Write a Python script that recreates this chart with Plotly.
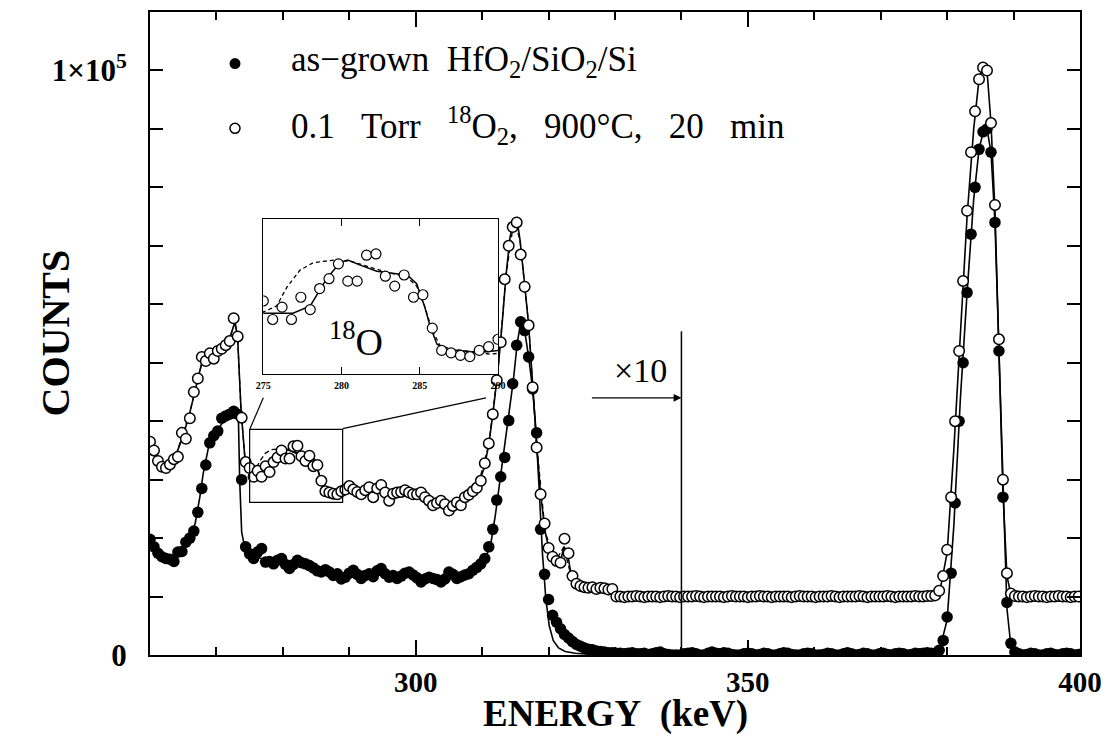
import numpy as np
import plotly.graph_objects as go

# ---------------- data (displayed counts, in units of 1000 counts) ----------------
# channel calibration of the spectrum
E0 = 260.0
DE = 0.6
# 0.1 Torr 18O2, 900C, 20 min (open circles); values above 340 keV are shown x10
annealed_k = [
    36.5, 35.0, 33.2, 32.2, 32.0, 32.6, 33.5, 33.9, 38.0, 37.0,
    40.5, 45.0, 47.3, 51.0, 50.3, 51.6, 50.7, 52.0, 52.4, 53.0,
    53.7, 57.6, 54.5, 40.6, 33.0, 32.0, 30.5, 31.5, 30.5, 32.3,
    31.3, 33.0, 33.8, 35.0, 33.6, 33.6, 35.7, 35.8, 34.0, 33.2,
    34.1, 32.3, 32.5, 29.8, 28.0, 27.8, 27.6, 27.5, 28.0, 28.3,
    28.9, 28.3, 27.9, 27.5, 28.2, 28.7, 27.0, 28.5, 29.1, 27.8,
    26.4, 27.6, 27.8, 27.9, 28.2, 27.8, 27.5, 27.5, 27.8, 27.0,
    26.4, 25.6, 26.0, 26.4, 25.8, 24.7, 25.5, 26.1, 25.6, 27.0,
    27.4, 28.0, 28.6, 29.8, 32.8, 36.2, 41.2, 47.0, 53.5, 64.3,
    70.0, 73.2, 74.0, 68.5, 63.0, 56.4, 45.8, 35.5, 27.5, 22.5,
    18.3, 16.8, 16.1, 15.8, 19.9, 17.4, 13.5, 12.2, 11.8, 11.6,
    11.5, 11.6, 11.3, 11.5, 11.4, 11.2, 11.3,
    10.0, 10.0, 9.9, 10.0, 10.0, 10.1, 10.0, 9.9, 10.0, 10.0,
    10.0, 9.9, 10.0, 10.1, 10.0, 10.0, 9.9, 10.0, 10.0, 10.0,
    10.1, 10.0, 9.9, 10.0, 10.0, 10.0, 10.0, 9.9, 10.0, 10.1,
    10.0, 10.0, 10.0, 9.9, 10.0, 10.0, 10.1, 10.0, 10.0, 9.9,
    10.0, 10.0, 10.0, 10.0, 9.9, 10.0, 10.1, 10.0, 10.0, 10.0,
    9.9, 10.0, 10.0, 10.0, 10.1, 10.0, 9.9, 10.0, 10.0, 10.0,
    10.0, 10.1, 10.0, 9.9, 10.0, 10.0, 10.0, 10.0, 10.1, 10.0,
    9.9, 10.0, 10.0, 10.0, 10.0, 10.1, 10.0, 10.0, 10.1, 10.1,
    10.2, 11.0, 13.5, 18.0, 27.0, 40.0, 52.0, 64.0, 76.0, 86.0,
    93.0, 98.5, 100.5, 100.0, 91.0, 77.0, 54.0, 30.0, 14.0,
    10.5, 10.1,
    10.0, 10.0, 9.9, 10.0, 10.1, 10.0, 10.0, 9.9, 10.0, 10.0,
    10.1, 10.0, 10.0, 9.9, 10.0, 10.0,
]
# as-grown HfO2/SiO2/Si (filled circles)
asgrown_k = [
    19.8, 18.5, 17.4, 16.8, 16.5, 16.4, 16.0, 17.6, 17.7, 19.3,
    20.0, 21.2, 24.4, 28.5, 32.5, 36.3, 37.5, 38.3, 40.5, 40.9,
    41.2, 41.7, 41.2, 30.0, 18.5, 17.3, 16.5, 17.6, 18.2, 15.9,
    16.0, 15.6, 16.2, 16.5, 15.5, 14.8, 15.5, 16.2, 15.8, 15.6,
    15.3, 14.9, 14.4, 14.2, 14.6, 14.2, 13.6, 13.9, 13.0, 13.3,
    14.0, 14.5, 13.8, 13.1, 13.6, 13.9, 13.4, 14.4, 14.8, 13.9,
    13.3, 13.6, 13.1, 13.5, 14.0, 14.2, 13.7, 13.2, 12.5, 13.0,
    13.3, 13.1, 12.9, 12.5, 13.0, 14.2, 13.8, 13.1, 13.4, 13.7,
    13.9, 14.5, 15.0, 15.6, 16.5, 18.5, 21.5, 26.5, 30.5, 33.8,
    40.1, 46.4, 53.0, 57.0, 55.5, 51.0, 45.5, 38.0, 21.5, 13.8,
    9.5, 6.8, 5.6, 4.5, 3.5, 2.9, 2.3, 1.8, 1.5, 1.2,
    1.0, 0.9, 0.7, 0.6, 0.5, 0.4, 0.4,
    0.3, 0.3, 0.2, 0.3, 0.4, 0.2, 0.2, 0.3, 0.1, 0.2,
    0.4, 0.5, 0.2, 0.1, 0.0, 0.0, 0.0, 0.2, 0.3, 0.4,
    0.2, 0.0, 0.0, 0.3, 0.5, 0.3, 0.2, 0.4, 0.3, 0.1,
    0.0, 0.0, 0.2, 0.3, 0.2, 0.0, 0.1, 0.3, 0.2, 0.0,
    0.0, 0.2, 0.4, 0.3, 0.1, 0.0, 0.0, 0.2, 0.3, 0.2,
    0.0, 0.0, 0.1, 0.3, 0.2, 0.0, 0.0, 0.2, 0.4, 0.2,
    0.0, 0.1, 0.3, 0.2, 0.0, 0.0, 0.2, 0.3, 0.1, 0.0,
    0.2, 0.3, 0.2, 0.0, 0.1, 0.3, 0.2, 0.3, 0.4, 0.3,
    0.3, 0.8, 2.5, 6.5, 14.0, 26.0, 40.0, 50.0, 62.0, 72.0,
    80.0, 86.5, 89.5, 90.0, 86.0, 74.0, 52.0, 27.0, 9.0,
    2.0, 0.5,
    0.2, 0.0, 0.1, 0.3, 0.2, 0.0, 0.0, 0.2, 0.3, 0.1,
    0.0, 0.2, 0.3, 0.2, 0.0, 0.1,
]

# simulations (solid lines) and alternative simulation (dashed)
sim_annealed_E = [260, 261, 262, 263, 264, 265, 266, 267, 267.8, 269, 270, 271, 272, 272.8,
                  273.2, 273.7, 274.3, 275, 276, 276.9, 278, 279.05, 279.9, 280.4, 281.2,
                  282.25, 283.5, 284.2, 284.8, 285.3, 285.65, 286.1, 286.7, 288.3, 289.3, 290,
                  292, 295, 298, 300, 302, 304, 305.5, 307, 308.5, 309.5, 310.3, 311, 311.7,
                  312.4, 313.0, 313.6, 314.2, 314.8, 315.2, 315.7, 316.3, 317, 317.6, 318.2,
                  318.8, 319.5, 320.2, 321, 321.7, 322.3, 322.8, 323.5, 324.2, 326, 328, 330,
                  331, 340, 378, 379, 380, 381, 382, 383, 384, 384.8, 385.4, 386, 386.6, 387.2,
                  387.8, 388.4, 389, 389.6, 390.5, 400]
sim_annealed_k = [35.5, 33.5, 32.3, 32.6, 34.5, 37.5, 41.5, 46.5, 50.0, 51.0, 52.0, 52.8, 54.2,
                  57.0, 54.0, 42.0, 33.5, 31.0, 31.0, 31.0, 31.6, 33.8, 35.1, 35.3, 34.9, 34.4,
                  34.2, 34.1, 33.4, 31.6, 30.0, 28.5, 28.1, 27.9, 27.9, 28.0, 28.0, 28.0, 27.8,
                  27.6, 26.8, 26.0, 25.7, 26.5, 27.8, 29.5, 32.0, 36.0, 42.0, 49.0, 56.5, 65.0,
                  71.5, 74.5, 74.8, 71.0, 64.5, 56.5, 46.5, 36.0, 27.5, 21.0, 17.5, 16.0, 15.5,
                  18.5, 17.8, 13.0, 11.5, 11.0, 10.8, 10.6, 10.1, 10.0, 10.0, 11.5, 17.5, 35.0,
                  55.0, 75.0, 90.0, 98.5, 100.8, 100.0, 91.0, 76.0, 52.0, 28.0, 13.5, 10.4,
                  10.0, 10.0]
sim2_annealed_E = [260, 262, 264, 266, 267.8, 270, 272, 272.8, 273.2, 273.7, 274.3, 275, 275.86,
                   276.5, 277.35, 278.2, 279.5, 280.6, 281.6, 282.7, 284.2, 284.8, 285.3, 285.8,
                   286.3, 287, 288.3, 289.5, 292, 296, 300, 304, 307, 309.5, 311, 312.4, 313.6,
                   314.8, 315.7, 317, 318.2, 319.5, 321, 322.3, 323.5, 326, 331]
sim2_annealed_k = [35.5, 32.3, 34.5, 41.5, 50.0, 52.0, 54.2, 57.0, 54.0, 42.0, 33.5, 31.1, 31.6,
                   33.1, 34.5, 35.1, 35.3, 35.2, 34.8, 34.4, 33.9, 33.2, 31.6, 29.6, 28.4, 28.1,
                   27.9, 27.7, 28.0, 27.9, 27.6, 26.0, 26.5, 29.5, 36.0, 49.0, 65.0, 74.5, 71.0,
                   56.5, 36.0, 21.0, 16.0, 18.5, 13.0, 11.0, 10.1]
sim_asgrown_E = [260, 261, 262, 263, 264, 265, 266, 266.8, 267.5, 268, 268.8, 269.6, 270.5,
                 271.3, 272.0, 272.8, 273.3, 273.5, 273.8, 274.3, 275, 276, 278, 280, 282, 284,
                 286, 288, 290, 295, 300, 305, 308, 309.5, 310.5, 311.3, 312, 312.7, 313.3, 314,
                 314.7, 315.3, 315.9, 316.4, 317, 317.6, 318.1, 318.6, 319.1, 319.6, 320.1,
                 320.7, 321.5, 322.5, 324, 326, 330, 340, 378, 379, 380, 381, 382, 383, 384,
                 384.8, 385.5, 386, 386.6, 387.2, 387.8, 388.4, 389, 389.6, 390.5, 400]
sim_asgrown_k = [19.0, 17.5, 16.6, 16.3, 16.8, 18.2, 20.2, 22.5, 27.0, 31.0, 35.5, 37.5, 39.0,
                 40.5, 41.2, 41.7, 41.0, 30.0, 21.0, 18.2, 17.3, 16.8, 16.0, 15.8, 15.5, 15.2,
                 14.4, 13.8, 13.7, 13.8, 13.4, 13.2, 13.9, 15.0, 16.5, 19.0, 24.0, 30.0, 35.0,
                 40.5, 47.0, 53.5, 57.5, 55.5, 51.0, 45.5, 38.5, 28.0, 17.0, 9.5, 5.0, 2.5, 1.2,
                 0.6, 0.3, 0.15, 0.05, 0.0, 0.0, 1.5, 6.0, 22.0, 44.0, 62.0, 78.0, 86.5, 89.8,
                 90.0, 86.0, 74.0, 52.0, 26.0, 8.0, 1.5, 0.0, 0.0]

x_ticks = [300, 350, 400]
x_ticklabels = ["300", "350", "400"]
y_ticks = [0, 100000]
y_ticklabels = ["0", "1×10<sup>5</sup>"]
inset_ticks = [275, 280, 285, 290]
inset_ticklabels = ["275", "280", "285", "290"]
scale_break_E = 340          # data above are multiplied by 10
inset_E_range = [275, 290]
box_E_range = [275, 289]
inset_counts_range = [26100, 38600]

# ---------------- helpers ----------------
def kc(v):
    return np.array(v, dtype=float) * 1000.0

E_ann = np.round(E0 + DE * np.arange(len(annealed_k)), 2)
E_asg = np.round(E0 + DE * np.arange(len(asgrown_k)), 2)

FONT = "Liberation Serif"
BLACK = "black"

fig = go.Figure()

# main panel: simulations
fig.add_trace(go.Scatter(x=sim2_annealed_E, y=kc(sim2_annealed_k), mode="lines",
                         line=dict(color=BLACK, width=1.3, dash="5px,3px"), showlegend=False))
fig.add_trace(go.Scatter(x=sim_annealed_E, y=kc(sim_annealed_k), mode="lines",
                         line=dict(color=BLACK, width=1.6), showlegend=False))
fig.add_trace(go.Scatter(x=sim_asgrown_E, y=kc(sim_asgrown_k), mode="lines",
                         line=dict(color=BLACK, width=1.6), showlegend=False))
# main panel: data
fig.add_trace(go.Scatter(x=E_asg, y=kc(asgrown_k), mode="markers",
                         marker=dict(symbol="circle", size=11.5, color=BLACK, line=dict(width=0)),
                         name="as-grown", showlegend=False))
fig.add_trace(go.Scatter(x=E_ann, y=kc(annealed_k), mode="markers",
                         marker=dict(symbol="circle", size=10.5, color="white",
                                     line=dict(color=BLACK, width=1.5)),
                         name="annealed", showlegend=False))

# inset panel
sel = (E_ann >= 274) & (E_ann <= 291)
fig.add_trace(go.Scatter(x=sim2_annealed_E, y=kc(sim2_annealed_k), mode="lines",
                         xaxis="x2", yaxis="y2",
                         line=dict(color=BLACK, width=1.3, dash="4px,3px"), showlegend=False))
fig.add_trace(go.Scatter(x=sim_annealed_E, y=kc(sim_annealed_k), mode="lines",
                         xaxis="x2", yaxis="y2",
                         line=dict(color=BLACK, width=1.5), showlegend=False))
fig.add_trace(go.Scatter(x=E_ann[sel], y=kc(annealed_k)[sel], mode="markers",
                         xaxis="x2", yaxis="y2",
                         marker=dict(symbol="circle", size=10, color="white",
                                     line=dict(color=BLACK, width=1.2)),
                         showlegend=False))

# ---------------- geometry ----------------
W, H = 1116, 736
ML, MR, MT, MB = 150, 36, 10, 81
PW, PH = W - ML - MR, H - MT - MB


def px_x(px):
    return (px - ML) / PW


def px_y(py):
    return (H - MB - py) / PH


fig.update_layout(
    width=W, height=H,
    margin=dict(l=ML, r=MR, t=MT, b=MB),
    paper_bgcolor="white", plot_bgcolor="white",
    showlegend=False,
    xaxis=dict(
        domain=[0, 1], range=[260, 400], showgrid=False, zeroline=False,
        showline=True, linecolor=BLACK, linewidth=2, mirror="ticks",
        ticks="inside", ticklen=15, tickwidth=1.6, tickcolor=BLACK,
        tickvals=x_ticks, ticktext=x_ticklabels,
        tickfont=dict(family=FONT, size=29, color=BLACK, weight="bold"),
        ticklabelstandoff=0,
        minor=dict(ticks="inside", ticklen=8, tickwidth=1.6, tickcolor=BLACK,
                   dtick=10, tick0=260, showgrid=False),
    ),
    yaxis=dict(
        domain=[0, 1], range=[0, 110000], showgrid=False, zeroline=False,
        showline=True, linecolor=BLACK, linewidth=2, mirror="ticks",
        ticks="inside", ticklen=13, tickwidth=1.6, tickcolor=BLACK,
        tickvals=y_ticks, ticktext=y_ticklabels,
        tickfont=dict(family=FONT, size=31, color=BLACK, weight="bold"),
        ticklabelstandoff=15,
        minor=dict(ticks="inside", ticklen=13, tickwidth=1.6, tickcolor=BLACK,
                   dtick=10000, tick0=0, showgrid=False),
    ),
    xaxis2=dict(
        domain=[px_x(263.3), px_x(498)], anchor="y2", range=inset_E_range,
        showgrid=False, zeroline=False, showline=True, linecolor=BLACK, linewidth=1,
        mirror="ticks", ticks="inside", ticklen=7, tickwidth=1, tickcolor=BLACK,
        tickvals=inset_ticks, ticktext=inset_ticklabels,
        tickfont=dict(family=FONT, size=10, color=BLACK, weight="bold"),
        ticklabelstandoff=2,
    ),
    yaxis2=dict(
        domain=[px_y(373), px_y(218)], anchor="x2", range=inset_counts_range,
        showgrid=False, zeroline=False, showline=True, linecolor=BLACK, linewidth=1,
        mirror=True, ticks="", showticklabels=False,
    ),
)

shapes = [
    # x10 scale break line
    dict(type="line", xref="x", yref="y", x0=scale_break_E, x1=scale_break_E,
         y0=0, y1=55400, line=dict(color=BLACK, width=1.5)),
    # zoom box in main panel
    dict(type="rect", xref="x", yref="y", x0=box_E_range[0], x1=box_E_range[1],
         y0=inset_counts_range[0], y1=inset_counts_range[1],
         line=dict(color=BLACK, width=1.2)),
    # connector lines from the box to the inset
    dict(type="line", xref="paper", yref="paper",
         x0=px_x(250), y0=px_y(428), x1=px_x(263.3), y1=px_y(397),
         line=dict(color=BLACK, width=1.2)),
    dict(type="line", xref="paper", yref="paper",
         x0=px_x(342.7), y0=px_y(428), x1=px_x(486), y1=px_y(397),
         line=dict(color=BLACK, width=1.2)),
    # legend symbols
    dict(type="circle", xref="paper", yref="paper", xsizemode="pixel", ysizemode="pixel",
         xanchor=px_x(235), yanchor=px_y(61.7), x0=-5.5, x1=5.5, y0=-5.5, y1=5.5,
         fillcolor=BLACK, line=dict(width=0)),
    dict(type="circle", xref="paper", yref="paper", xsizemode="pixel", ysizemode="pixel",
         xanchor=px_x(235), yanchor=px_y(126.7), x0=-5, x1=5, y0=-5, y1=5,
         fillcolor="white", line=dict(color=BLACK, width=1.5)),
]
fig.update_layout(shapes=shapes)

NB = "\u00a0"
GAP = "\u2002\u00a0"
annotations = [
    dict(text="<b>COUNTS</b>", xref="paper", yref="paper", x=px_x(55), y=0.5,
         textangle=-90, showarrow=False, xanchor="center", yanchor="middle",
         font=dict(family=FONT, size=40, color=BLACK)),
    dict(text=f"<b>ENERGY{NB}{NB}(keV)</b>", xref="paper", yref="paper", x=0.5, y=px_y(714),
         showarrow=False, xanchor="center", yanchor="middle",
         font=dict(family=FONT, size=37, color=BLACK)),
    dict(text=f"as−grown{NB}{NB}HfO<sub>2</sub>/SiO<sub>2</sub>/Si", xref="paper", yref="paper",
         x=px_x(289), y=px_y(60), showarrow=False, xanchor="left", yanchor="middle",
         font=dict(family=FONT, size=35, color=BLACK)),
    dict(text=f"0.1{GAP}Torr{GAP}<sup>18</sup>O<sub>2</sub>,{GAP}900°C,{GAP}20{GAP}min",
         xref="paper", yref="paper",
         x=px_x(289), y=px_y(124), showarrow=False, xanchor="left", yanchor="middle",
         font=dict(family=FONT, size=35, color=BLACK)),
    dict(text="×10", xref="x", yref="y", x=333.8, y=48600, showarrow=False,
         xanchor="center", yanchor="middle", font=dict(family=FONT, size=34, color=BLACK)),
    dict(text="", xref="x", yref="y", x=scale_break_E, y=44000, ax=326.3, ay=44000,
         axref="x", ayref="y", showarrow=True, arrowhead=2, arrowsize=1.2, arrowwidth=1.3,
         arrowcolor=BLACK, standoff=0),
    dict(text="<sup>18</sup>O", xref="x2", yref="y2", x=280.9, y=28900, showarrow=False,
         xanchor="center", yanchor="middle", font=dict(family=FONT, size=38, color=BLACK)),
]
fig.update_layout(annotations=annotations)

fig.write_html("out.html")
